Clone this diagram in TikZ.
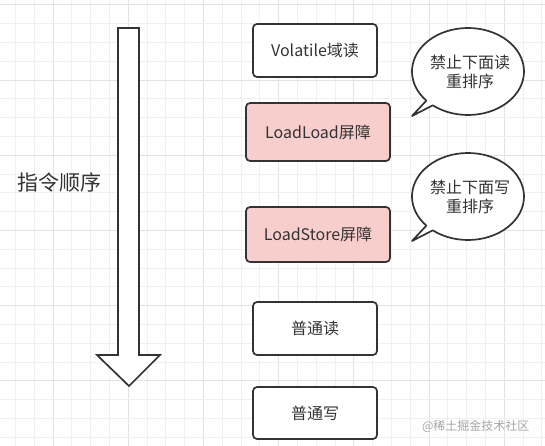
\documentclass[tikz,border=0pt]{standalone}
\usepackage{fontspec}
\setmainfont{Noto Sans CJK SC}
\definecolor{ink}{HTML}{333333}
\definecolor{pinkfill}{HTML}{F8CECC}
\definecolor{gridminor}{HTML}{F0F0F0}
\definecolor{gridmajor}{HTML}{E2E2E2}
\begin{document}
\begin{tikzpicture}[x=1pt,y=1pt,
  stepbox/.style={draw=ink, line width=1.7pt, rounded corners=4pt, fill=white,
    minimum width=#1, text=ink, font=\fontsize{16}{19}\selectfont, inner sep=0pt},
  stepbox/.default=124pt,
  barrier/.style={stepbox=144pt, fill=pinkfill},
  bubble/.style={draw=ink, line width=1.7pt, fill=white, line join=round},
  bubbletext/.style={text=ink, font=\fontsize{16}{19}\selectfont, align=center, inner sep=0pt},
  shape outline/.style={draw=ink, line width=1.7pt, fill=white, line join=miter}
]
\useasboundingbox (0,0) rectangle (545,-446);
\fill[white] (0,0) rectangle (545,-446);
% grid
\foreach \k in {-2,...,26}{
  \pgfmathsetmacro\gx{53+18.8*\k}
  \pgfmathtruncatemacro\m{mod(\k+40,4)}
  \ifnum\m=0
    \draw[gridmajor, line width=0.8pt] (\gx,0) -- (\gx,-446);
  \else
    \draw[gridminor, line width=0.7pt] (\gx,0) -- (\gx,-446);
  \fi
}
\foreach \k in {-4,...,19}{
  \pgfmathsetmacro\gy{-(80+18.8*\k)}
  \pgfmathtruncatemacro\m{mod(\k+40,4)}
  \ifnum\m=0
    \draw[gridmajor, line width=0.8pt] (0,\gy) -- (545,\gy);
  \else
    \draw[gridminor, line width=0.7pt] (0,\gy) -- (545,\gy);
  \fi
}
% big order arrow
\draw[shape outline] (118,-28) -- (139,-28) -- (139,-355) -- (160,-355) -- (129,-386)
  -- (97,-355) -- (118,-355) -- cycle;
\node[text=ink, font=\fontsize{21}{24}\selectfont, anchor=west] (order) at (14,-183) {指令顺序};
% steps
\node[stepbox, minimum height=53pt] (vr) at (315,-50.5) {Volatile域读};
\node[barrier, minimum height=58pt] (ll) at (318,-132) {LoadLoad屏障};
\node[barrier, minimum height=55pt] (ls) at (318,-234.5) {LoadStore屏障};
\node[stepbox, minimum height=53pt] (nr) at (315,-328.5) {普通读};
\node[stepbox, minimum height=52pt] (nw) at (315,-413) {普通写};
% bubbles
\coordinate (c1) at (468,-71.5);
\coordinate (t1) at (412,-116);
\draw[bubble] (c1) ++(231:56 and 43.5) arc[start angle=231, end angle=582, x radius=56, y radius=43.5] -- (t1) -- cycle;
\node[bubbletext] (b1) at (470,-72) {禁止下面读\\重排序};
\coordinate (c2) at (468,-196.5);
\coordinate (t2) at (412,-241);
\draw[bubble] (c2) ++(231:56 and 43.5) arc[start angle=231, end angle=582, x radius=56, y radius=43.5] -- (t2) -- cycle;
\node[bubbletext] (b2) at (470,-197) {禁止下面写\\重排序};
% watermark
\node[text=gray!70, font=\fontsize{12}{14}\selectfont, anchor=east] (wm) at (533,-426) {@稀土掘金技术社区};
\end{tikzpicture}
\end{document}
